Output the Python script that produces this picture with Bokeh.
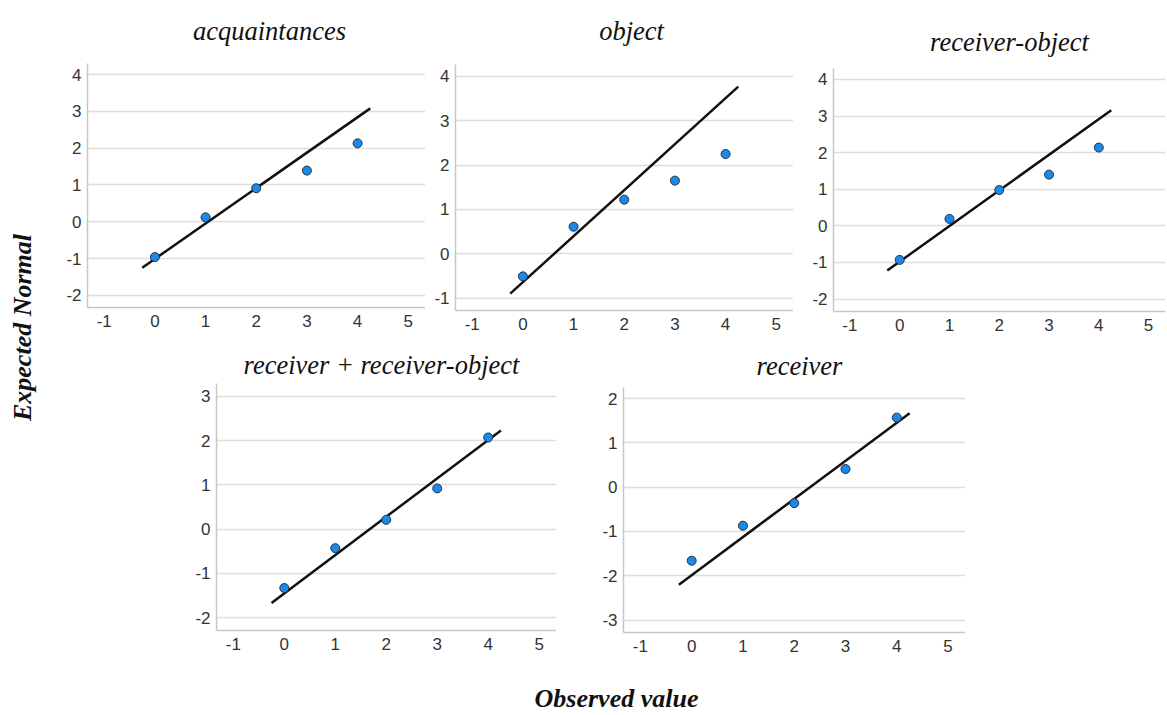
from bokeh.plotting import figure
from bokeh.layouts import row, column
from bokeh.models import Range1d, FixedTicker, Label, PrintfTickFormatter
from bokeh.embed import file_html
from bokeh.resources import INLINE
import math

# ---- data ----
titles = ["acquaintances", "object", "receiver-object",
          "receiver + receiver-object", "receiver"]
observed = [0, 1, 2, 3, 4]
expected_acq = [-0.96, 0.12, 0.91, 1.39, 2.13]
expected_obj = [-0.51, 0.61, 1.22, 1.65, 2.25]
expected_ro = [-0.93, 0.19, 0.98, 1.40, 2.14]
expected_rro = [-1.33, -0.43, 0.21, 0.92, 2.07]
expected_rec = [-1.66, -0.87, -0.36, 0.41, 1.57]
line_x = [-0.25, 4.25]
line_acq = [-1.25, 3.08]
line_obj = [-0.90, 3.77]
line_ro = [-1.22, 3.16]
line_rro = [-1.67, 2.23]
line_rec = [-2.20, 1.67]
x_ticks = [-1, 0, 1, 2, 3, 4, 5]
yticks_acq = [-2, -1, 0, 1, 2, 3, 4]
yticks_obj = [-1, 0, 1, 2, 3, 4]
yticks_ro = [-2, -1, 0, 1, 2, 3, 4]
yticks_rro = [-2, -1, 0, 1, 2, 3]
yticks_rec = [-3, -2, -1, 0, 1, 2]

SERIF = "Liberation Serif"
SANS = "Liberation Sans"
XR = (-1.33, 5.34)
INNER_X0 = 50  # page x where the panel column starts


def panel(title, ys, line_y, yticks, yr, frame_l, frame_r, bl, br,
          row_top, frame_top, frame_bot, row_h, title_cx, title_base):
    """Frame spans from row_top (title area) down to frame_bot; the y axis
    line is bounded to the plotting range yr (which spans frame_top..frame_bot)."""
    fw = frame_r - frame_l
    fh = frame_bot - row_top
    yb, yt = yr
    per_px = (yt - yb) / (frame_bot - frame_top)
    y_top_ext = yt + (frame_top - row_top) * per_px
    p = figure(frame_width=fw, frame_height=fh, output_backend="svg",
               toolbar_location=None, title=None, x_range=Range1d(*XR),
               y_range=Range1d(yb, y_top_ext), min_border_left=bl,
               min_border_top=0, min_border_right=br,
               min_border_bottom=row_h - (frame_bot - row_top))
    p.outline_line_color = None
    p.xgrid.grid_line_color = None
    p.ygrid.grid_line_color = "#dedede"
    p.ygrid.grid_line_width = 1.5
    p.xaxis.ticker = FixedTicker(ticks=x_ticks)
    p.yaxis.ticker = FixedTicker(ticks=yticks)
    p.yaxis.bounds = (yb, yt)
    for ax in (p.xaxis[0], p.yaxis[0]):
        ax.formatter = PrintfTickFormatter(format="%d")
        ax.axis_line_color = "#c6c6c6"
        ax.axis_line_width = 1.5
        ax.major_tick_line_color = None
        ax.minor_tick_line_color = None
        ax.major_tick_out = 0
        ax.major_tick_in = 0
        ax.minor_tick_out = 0
        ax.minor_tick_in = 0
        ax.major_label_text_font = SANS
        ax.major_label_text_font_size = "17px"
        ax.major_label_text_color = "#333333"
    p.xaxis[0].major_label_standoff = 7
    p.yaxis[0].major_label_standoff = 6
    p.line(line_x, line_y, line_color="#111111", line_width=2.5)
    p.scatter(observed, ys, size=9, fill_color="#1e88e5",
              line_color="#1a3550", line_width=1)
    # title inside the extended frame (pixel position -> data units)
    tx = XR[0] + (title_cx - frame_l) / fw * (XR[1] - XR[0])
    ty = yb + (frame_bot - title_base) * per_px
    p.add_layout(Label(x=tx, y=ty, text=title, text_align="center",
                       text_baseline="alphabetic", text_font=SERIF,
                       text_font_style="italic", text_font_size="26.5px",
                       text_color="#111111"))
    return p


def blank(w, h):
    f = figure(width=w, height=h, output_backend="svg", toolbar_location=None,
               title=None, x_range=Range1d(0, w), y_range=Range1d(h, 0),
               min_border=0)
    f.axis.visible = False
    f.grid.visible = False
    f.outline_line_color = None
    return f


# row 1: page y 0..340
p1 = panel(titles[0], expected_acq, line_acq, yticks_acq, (-2.33, 4.3),
           87, 425, 87 - INNER_X0, 0, 0, 63, 307, 340, 269, 30)
p2 = panel(titles[1], expected_obj, line_obj, yticks_obj, (-1.28, 4.27),
           455, 793, 30, 0, 0, 64, 310, 340, 631, 30)
p3 = panel(titles[2], expected_ro, line_ro, yticks_ro, (-2.34, 4.3),
           833, 1165, 40, 2, 0, 68, 311, 340, 1009, 41)
# row 2: page y 340..660
p4 = panel(titles[3], expected_rro, line_rro, yticks_rro, (-2.29, 3.29),
           216, 556, 216 - INNER_X0, 0, 340, 383, 630, 320, 381, 364)
p5 = panel(titles[4], expected_rec, line_rec, yticks_rec, (-3.28, 2.25),
           623, 965, 67, 0, 340, 387, 632, 320, 799, 365)

ylab = blank(50, 660)
ylab.add_layout(Label(x=22, y=327, text="Expected Normal", angle=math.pi / 2,
                      text_align="center", text_baseline="middle",
                      text_font=SERIF, text_font_style="bold italic",
                      text_font_size="26px", text_color="#111111"))

xlab = blank(1167, 55)
xlab.add_layout(Label(x=616, y=38, text="Observed value",
                      text_align="center", text_baseline="middle",
                      text_font=SERIF, text_font_style="bold italic",
                      text_font_size="26px", text_color="#111111"))

layout = column(row(ylab, column(row(p1, p2, p3), row(p4, p5))), xlab)

open("out.html", "w").write(file_html(layout, INLINE))
